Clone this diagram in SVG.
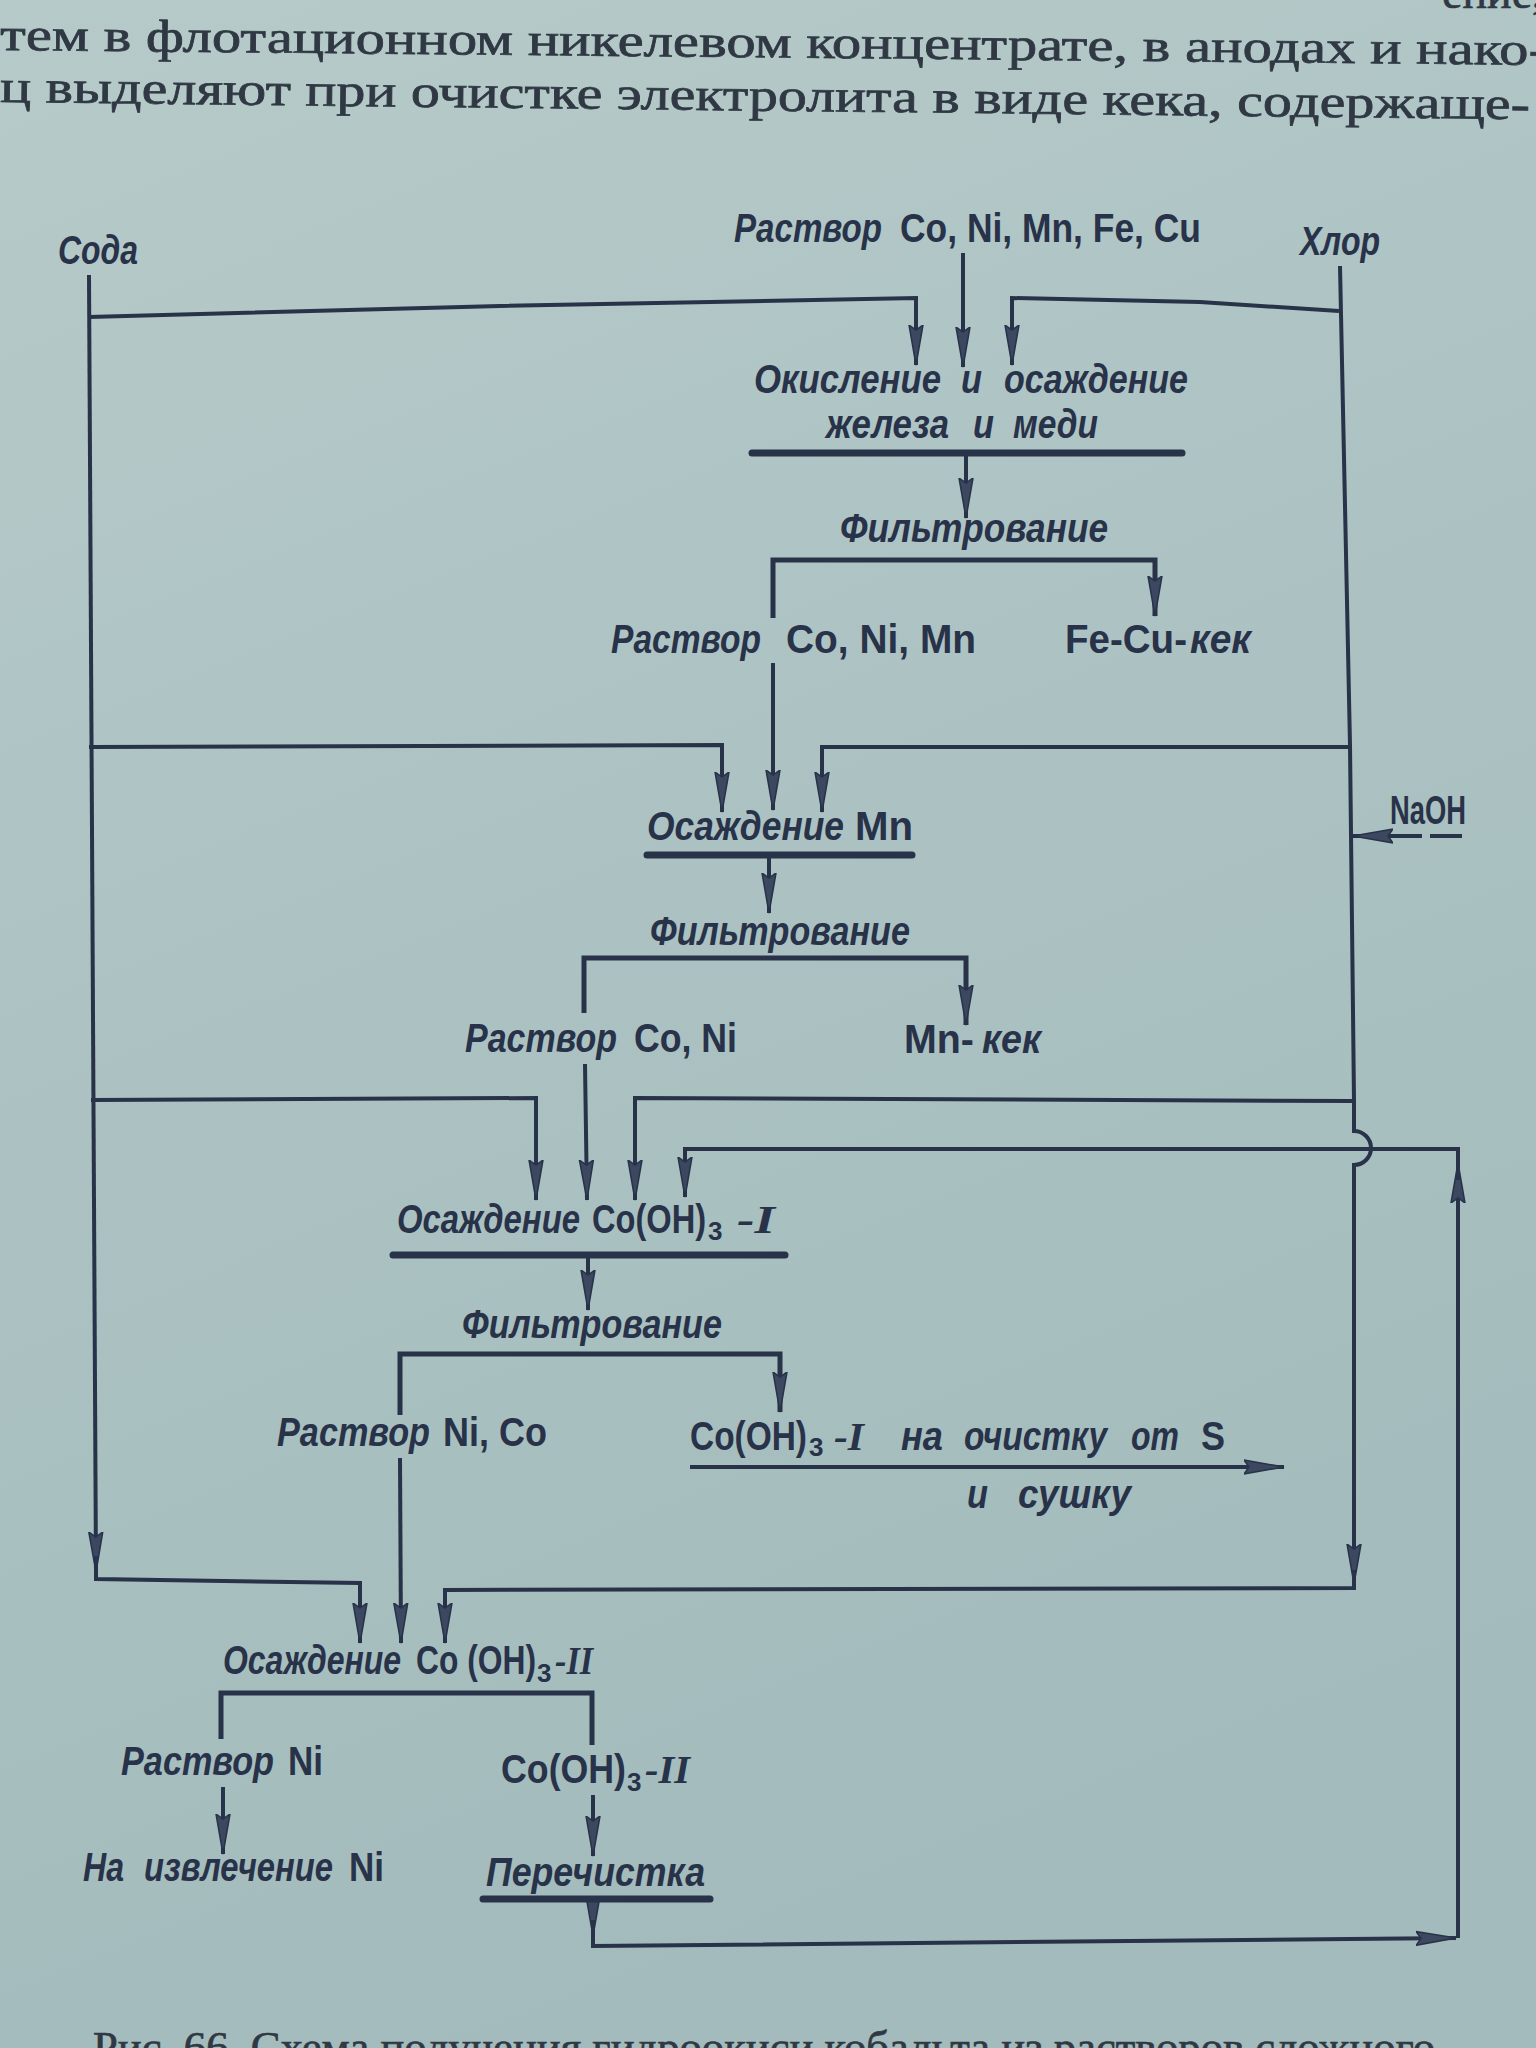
<svg xmlns="http://www.w3.org/2000/svg" width="1536" height="2048" viewBox="0 0 1536 2048">
<defs>
<linearGradient id="paper" x1="0" y1="0" x2="0.3" y2="1">
<stop offset="0" stop-color="#b6cac9"/>
<stop offset="1" stop-color="#a3bbbc"/>
</linearGradient>
<marker id="ah" markerUnits="userSpaceOnUse" markerWidth="42" markerHeight="16" refX="40" refY="8" orient="auto" viewBox="0 0 42 16">
<path d="M0,1 L40,8 L0,15 L5,8 Z" fill="#3c4760" stroke="#283249" stroke-width="1.5"/>
</marker>
<style>
.book{font-family:"Liberation Serif","DejaVu Serif",serif;font-size:46px;fill:#2f3843;stroke:#2f3843;stroke-width:0.7;}
.t{font-family:"Liberation Sans","DejaVu Sans",sans-serif;font-weight:bold;font-size:40px;fill:#283249;}
.i{font-style:italic;}
.r{font-family:"Liberation Serif","DejaVu Serif",serif;font-style:italic;}
.s{font-size:26px;}
.ln{fill:none;stroke:#283249;stroke-width:4;}
.br{fill:none;stroke:#283249;stroke-width:5;}
.ul{stroke:#283249;stroke-width:7;stroke-linecap:round;}
.a{marker-end:url(#ah);}
</style>
</defs>
<rect x="0" y="0" width="1536" height="2048" fill="url(#paper)"/>

<g id="book-text">
<text class="book" x="1442" y="8">ение,</text>
<text class="book" x="0" y="50" textLength="1548" lengthAdjust="spacingAndGlyphs" transform="rotate(0.55 0 50)">тем в флотационном никелевом концентрате, в анодах и нако-</text>
<text class="book" x="0" y="102" textLength="1530" lengthAdjust="spacingAndGlyphs" transform="rotate(0.65 0 102)">ц выделяют при очистке электролита в виде кека, содержаще-</text>
<text class="book" x="93" y="2062" textLength="1342" lengthAdjust="spacingAndGlyphs" style="font-size:44px">Рис. 66. Схема получения гидроокиси кобальта из растворов сложного</text>
</g>

<g id="connectors">
<path class="ln a" d="M89,275 L96,1572"/>
<path class="ln a" d="M96,1556 L96,1579 L360,1583 L360,1643"/>
<path class="ln a" d="M89,317 L500,306 L916,298 L916,365"/>
<path class="ln a" d="M89,747 L722,745 L722,812"/>
<path class="ln a" d="M91,1100 L536,1098 L536,1200"/>
<path class="ln a" d="M1340,266 L1350,745 L1354,1101 L1354,1131 A17,17 0 0 1 1354,1165 L1354,1584"/>
<path class="ln a" d="M1354,1570 L1354,1588 L445,1590 L445,1643"/>
<path class="ln a" d="M1339,311 L1200,302 L1012,298 L1012,365"/>
<path class="ln a" d="M1349,747 L822,747 L822,812"/>
<path class="ln a" d="M1354,1101 L635,1098 L635,1200"/>
<path class="ln a" d="M1422,836 L1353,836"/>
<path class="ln" d="M1430,836 L1462,836"/>
<path class="ln a" d="M963,253 L963,367"/>
<path class="ln a" d="M966,453 L966,518"/>
<path class="br a" d="M773,618 L773,560 L1155,560 L1155,616"/>
<path class="ln a" d="M773,663 L773,810"/>
<path class="ln a" d="M769,854 L769,913"/>
<path class="br a" d="M584,1013 L584,958 L966,958 L966,1025"/>
<path class="ln a" d="M585,1064 L587,1200"/>
<path class="ln a" d="M588,1254 L588,1310"/>
<path class="br a" d="M400,1415 L400,1354 L780,1354 L780,1412"/>
<path class="ln a" d="M400,1458 L401,1643"/>
<path class="ln a" d="M690,1467 L1284,1467"/>
<path class="br" d="M221,1739 L221,1693 L592,1693 L592,1745"/>
<path class="ln a" d="M223,1787 L223,1854"/>
<path class="ln a" d="M593,1795 L593,1856"/>
<path class="ln a" d="M593,1899 L593,1936"/>
<path class="ln a" d="M593,1920 L593,1946 L1456,1938"/>
<path class="ln a" d="M1458,1938 L1458,1163"/>
<path class="ln a" d="M1458,1180 L1458,1149 L685,1149 L685,1197"/>
<line class="ul" x1="752" y1="453" x2="1182" y2="453"/>
<line class="ul" x1="647" y1="855" x2="912" y2="855"/>
<line class="ul" x1="393" y1="1255" x2="785" y2="1255"/>
<line class="ul" x1="483" y1="1899" x2="710" y2="1899"/>
</g>

<g id="n-soda"><text class="t i" transform="translate(58 264) scale(0.78 1)" textLength="102.6" lengthAdjust="spacingAndGlyphs">Сода</text></g>
<g id="n-chlor"><text class="t i" transform="translate(1300 255) scale(0.78 1)" textLength="102.6" lengthAdjust="spacingAndGlyphs">Хлор</text></g>
<g id="n-feed">
<text class="t i" transform="translate(734 242) scale(0.78 1)" textLength="189.7" lengthAdjust="spacingAndGlyphs">Раствор</text>
<text class="t" transform="translate(900 242) scale(0.78 1)" textLength="385.9" lengthAdjust="spacingAndGlyphs">Co, Ni, Mn, Fe, Cu</text>
</g>
<g id="n-oxid">
<text class="t i" transform="translate(754 393) scale(0.78 1)" textLength="239.7" lengthAdjust="spacingAndGlyphs">Окисление</text>
<text class="t i" transform="translate(961 393) scale(0.78 1)" textLength="26.9" lengthAdjust="spacingAndGlyphs">и</text>
<text class="t i" transform="translate(1004 393) scale(0.78 1)" textLength="235.9" lengthAdjust="spacingAndGlyphs">осаждение</text>
<text class="t i" transform="translate(826 438) scale(0.78 1)" textLength="157.7" lengthAdjust="spacingAndGlyphs">железа</text>
<text class="t i" transform="translate(973 438) scale(0.78 1)" textLength="26.9" lengthAdjust="spacingAndGlyphs">и</text>
<text class="t i" transform="translate(1013 438) scale(0.78 1)" textLength="109" lengthAdjust="spacingAndGlyphs">меди</text>
</g>
<g id="n-filt1"><text class="t i" transform="translate(840 542) scale(0.78 1)" textLength="343.6" lengthAdjust="spacingAndGlyphs">Фильтрование</text></g>
<g id="n-sol1">
<text class="t i" transform="translate(611 653) scale(0.78 1)" textLength="192.3" lengthAdjust="spacingAndGlyphs">Раствор</text>
<text class="t" transform="translate(786 653) scale(0.78 1)" textLength="243.6" lengthAdjust="spacingAndGlyphs">Co, Ni, Mn</text>
</g>
<g id="n-fecu">
<text class="t" transform="translate(1065 653) scale(0.78 1)" textLength="156.4" lengthAdjust="spacingAndGlyphs">Fe-Cu-</text>
<text class="t i" transform="translate(1190 653) scale(0.78 1)" textLength="78.2" lengthAdjust="spacingAndGlyphs">кек</text>
</g>
<g id="n-naoh"><text class="t" transform="translate(1390 824) scale(0.78 1)" textLength="97.4" lengthAdjust="spacingAndGlyphs">NaOH</text></g>
<g id="n-mn">
<text class="t i" transform="translate(647 840) scale(0.78 1)" textLength="252.6" lengthAdjust="spacingAndGlyphs">Осаждение</text>
<text class="t" transform="translate(855 840) scale(0.78 1)" textLength="74.4" lengthAdjust="spacingAndGlyphs">Mn</text>
</g>
<g id="n-filt2"><text class="t i" transform="translate(650 945) scale(0.78 1)" textLength="333.3" lengthAdjust="spacingAndGlyphs">Фильтрование</text></g>
<g id="n-sol2">
<text class="t i" transform="translate(465 1052) scale(0.78 1)" textLength="194.9" lengthAdjust="spacingAndGlyphs">Раствор</text>
<text class="t" transform="translate(634 1052) scale(0.78 1)" textLength="132.1" lengthAdjust="spacingAndGlyphs">Co, Ni</text>
</g>
<g id="n-mncake">
<text class="t" transform="translate(904 1053) scale(0.78 1)" textLength="89.7" lengthAdjust="spacingAndGlyphs">Mn-</text>
<text class="t i" transform="translate(982 1053) scale(0.78 1)" textLength="75.6" lengthAdjust="spacingAndGlyphs">кек</text>
</g>
<g id="n-co1">
<text class="t i" transform="translate(397 1233) scale(0.78 1)" textLength="234.6" lengthAdjust="spacingAndGlyphs">Осаждение</text>
<text class="t" transform="translate(592 1233) scale(0.78 1)" textLength="146.2" lengthAdjust="spacingAndGlyphs">Co(OH)</text>
<text class="t s" x="708" y="1240">3</text>
<text class="t r" transform="translate(737 1233) scale(0.78 1)" textLength="48.7" lengthAdjust="spacingAndGlyphs">-I</text>
</g>
<g id="n-filt3"><text class="t i" transform="translate(462 1338) scale(0.78 1)" textLength="333.3" lengthAdjust="spacingAndGlyphs">Фильтрование</text></g>
<g id="n-sol3">
<text class="t i" transform="translate(277 1446) scale(0.78 1)" textLength="196.2" lengthAdjust="spacingAndGlyphs">Раствор</text>
<text class="t" transform="translate(443 1446) scale(0.78 1)" textLength="133.3" lengthAdjust="spacingAndGlyphs">Ni, Co</text>
</g>
<g id="n-co1out">
<text class="t" transform="translate(690 1450) scale(0.78 1)" textLength="150" lengthAdjust="spacingAndGlyphs">Co(OH)</text>
<text class="t s" x="809" y="1456">3</text>
<text class="t r" transform="translate(834 1450) scale(0.78 1)" textLength="38.5" lengthAdjust="spacingAndGlyphs">-I</text>
<text class="t i" transform="translate(901 1450) scale(0.78 1)" textLength="53.8" lengthAdjust="spacingAndGlyphs">на</text>
<text class="t i" transform="translate(964 1450) scale(0.78 1)" textLength="183.3" lengthAdjust="spacingAndGlyphs">очистку</text>
<text class="t i" transform="translate(1131 1450) scale(0.78 1)" textLength="61.5" lengthAdjust="spacingAndGlyphs">от</text>
<text class="t" transform="translate(1201 1450) scale(0.78 1)" textLength="30.8" lengthAdjust="spacingAndGlyphs">S</text>
<text class="t i" transform="translate(967 1508) scale(0.78 1)" textLength="26.9" lengthAdjust="spacingAndGlyphs">и</text>
<text class="t i" transform="translate(1018 1508) scale(0.78 1)" textLength="144.9" lengthAdjust="spacingAndGlyphs">сушку</text>
</g>
<g id="n-co2">
<text class="t i" transform="translate(223 1674) scale(0.78 1)" textLength="228.2" lengthAdjust="spacingAndGlyphs">Осаждение</text>
<text class="t" transform="translate(416 1674) scale(0.78 1)" textLength="153.8" lengthAdjust="spacingAndGlyphs">Co (OH)</text>
<text class="t s" x="537" y="1682">3</text>
<text class="t r" transform="translate(555 1674) scale(0.78 1)" textLength="48.7" lengthAdjust="spacingAndGlyphs">-II</text>
</g>
<g id="n-sol4">
<text class="t i" transform="translate(121 1775) scale(0.78 1)" textLength="196.2" lengthAdjust="spacingAndGlyphs">Раствор</text>
<text class="t" transform="translate(288 1775) scale(0.78 1)" textLength="44.9" lengthAdjust="spacingAndGlyphs">Ni</text>
</g>
<g id="n-co2out">
<text class="t" transform="translate(501 1783) scale(0.78 1)" textLength="160.3" lengthAdjust="spacingAndGlyphs">Co(OH)</text>
<text class="t s" x="627" y="1791">3</text>
<text class="t r" transform="translate(645 1783) scale(0.78 1)" textLength="57.7" lengthAdjust="spacingAndGlyphs">-II</text>
</g>
<g id="n-ni">
<text class="t i" transform="translate(83 1881) scale(0.78 1)" textLength="52.6" lengthAdjust="spacingAndGlyphs">На</text>
<text class="t i" transform="translate(144 1881) scale(0.78 1)" textLength="242.3" lengthAdjust="spacingAndGlyphs">извлечение</text>
<text class="t" transform="translate(349 1881) scale(0.78 1)" textLength="44.9" lengthAdjust="spacingAndGlyphs">Ni</text>
</g>
<g id="n-repur"><text class="t i" transform="translate(486 1886) scale(0.78 1)" textLength="280.8" lengthAdjust="spacingAndGlyphs">Перечистка</text></g>
</svg>
